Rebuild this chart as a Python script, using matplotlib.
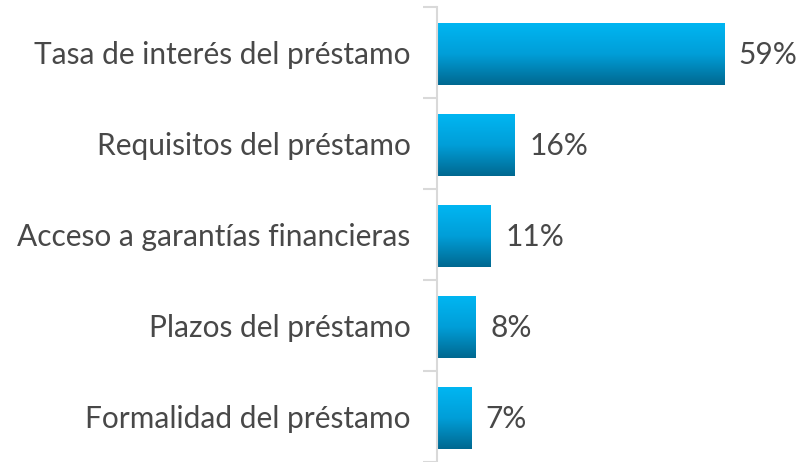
import matplotlib.pyplot as plt
import numpy as np
from matplotlib.colors import LinearSegmentedColormap

categories = ['Tasa de interés del préstamo', 'Requisitos del préstamo',
              'Acceso a garantías financieras', 'Plazos del préstamo',
              'Formalidad del préstamo']
values = [59, 16, 11, 8, 7]

plt.rcParams['font.family'] = ['Lato', 'DejaVu Sans']

fig = plt.figure(figsize=(8.07, 4.62), dpi=100)
ax = fig.add_axes([437 / 807, 0, 370 / 807, 455 / 462])

grad = LinearSegmentedColormap.from_list('bar', ['#00b6f2', '#009ed8', '#006890'])
ypos = np.arange(len(categories))
bars = ax.barh(ypos + 0.02, values, height=0.68, color='none', edgecolor='none')
g = np.linspace(0, 1, 256).reshape(-1, 1)
for bar in bars:
    x0, y0 = bar.get_x(), bar.get_y()
    w, h = bar.get_width(), bar.get_height()
    im = ax.imshow(g, cmap=grad, aspect='auto', extent=[x0, x0 + w, y0 + h, y0],
                   zorder=2)
    im.set_clip_path(bar)

for y, v in zip(ypos, values):
    ax.text(v + 3, y + 0.03, f'{v}%', va='center', ha='left', fontsize=21.5,
            color='#484848')

ax.set_xlim(0, 76)
ax.set_ylim(len(categories) - 0.5, -0.5)
ax.set_yticks(ypos)
ax.set_yticklabels(categories, fontsize=21.5, color='#484848')
ax.set_yticks(np.arange(-0.5, len(categories)), minor=True)
ax.tick_params(axis='y', which='major', length=0, pad=19)
ax.tick_params(axis='y', which='minor', length=10, width=1.5, color='#d9d9d9')
ax.set_xticks([])
for s in ['top', 'right', 'bottom']:
    ax.spines[s].set_visible(False)
ax.spines['left'].set_color('#d9d9d9')
ax.spines['left'].set_linewidth(1.5)

fig.savefig('out.png', dpi=100)
